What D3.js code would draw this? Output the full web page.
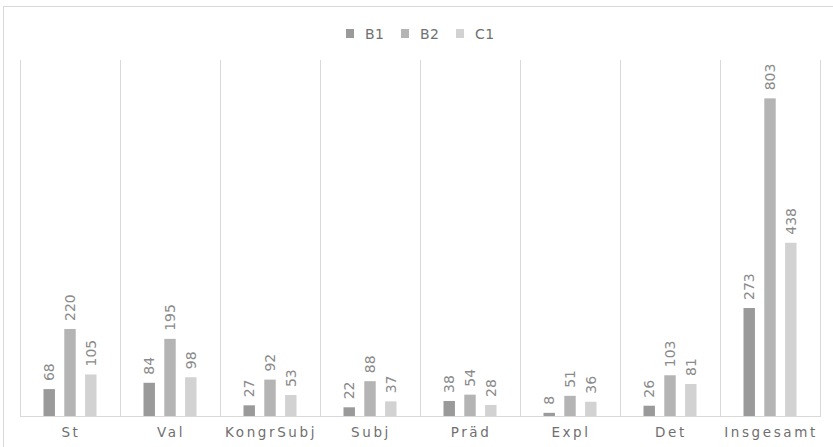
<!DOCTYPE html>
<html>
<head>
<meta charset="utf-8">
<script src="https://cdn.jsdelivr.net/npm/d3@7"></script>
<style>
  body { margin: 0; background: #fff; }
  svg { display: block; }
</style>
</head>
<body>
<div class="chart"></div>
<script>
const categories = ['St', 'Val', 'KongrSubj', 'Subj', 'Präd', 'Expl', 'Det', 'Insgesamt'];
const seriesNames = ['B1', 'B2', 'C1'];
const b1Values = [68, 84, 27, 22, 38, 8, 26, 273];
const b2Values = [220, 195, 92, 88, 54, 51, 103, 803];
const c1Values = [105, 98, 53, 37, 28, 36, 81, 438];

const seriesValues = [b1Values, b2Values, c1Values];
const colors = d3.scaleOrdinal()
  .domain(seriesNames)
  .range(['#9a9a9a', '#b4b4b4', '#d2d2d2']);

const chartWidth = 833;
const chartHeight = 447;

const margin = { left: 20, right: 13, top: 60, bottom: 31 };
const width = chartWidth - margin.left - margin.right;
const height = chartHeight - margin.top - margin.bottom;

const root = d3.select('.chart')
  .append('svg')
  .attr('width', chartWidth)
  .attr('height', chartHeight);

// outer frame (right/bottom edges fall outside the picture)
root.append('rect')
  .attr('x', 3.5)
  .attr('y', 6.5)
  .attr('width', 840)
  .attr('height', 450)
  .attr('fill', 'none')
  .attr('stroke', '#d9d9d9');

const svg = root.append('g')
  .attr('transform', `translate(${margin.left}, ${margin.top})`);

const xScale = d3.scaleBand()
  .domain(categories)
  .range([0, width]);

const inner = d3.scaleBand()
  .domain(seriesNames)
  .range([23.5, 76.5])
  .paddingInner(0.45);

const yScale = d3.scaleLinear()
  .domain([0, 900])
  .range([height, 0]);

// vertical separators between categories
const bounds = categories.map(c => xScale(c)).concat([width]);
svg.append('g')
  .selectAll('line')
  .data(bounds)
  .enter()
  .append('line')
  .attr('x1', d => Math.round(d) + 0.5)
  .attr('x2', d => Math.round(d) + 0.5)
  .attr('y1', 0)
  .attr('y2', height)
  .attr('stroke', '#d9d9d9');

const rows = [];
categories.forEach((c, i) => {
  seriesNames.forEach((s, j) => {
    rows.push({ category: c, series: s, value: seriesValues[j][i] });
  });
});

const bars = svg.append('g');
bars.selectAll('rect')
  .data(rows)
  .enter()
  .append('rect')
  .attr('x', d => xScale(d.category) + inner(d.series))
  .attr('y', d => yScale(d.value))
  .attr('width', inner.bandwidth())
  .attr('height', d => height - yScale(d.value))
  .style('fill', d => colors(d.series));

bars.selectAll('text')
  .data(rows)
  .enter()
  .append('text')
  .attr('transform', d => {
    const cx = xScale(d.category) + inner(d.series) + inner.bandwidth() / 2;
    return `translate(${cx}, ${yScale(d.value) - 8}) rotate(-90)`;
  })
  .attr('dy', '0.36em')
  .attr('text-anchor', 'start')
  .attr('font-family', 'DejaVu Sans, sans-serif')
  .attr('font-size', '14px')
  .style('fill', '#8a8a8a')
  .text(d => d.value);

// baseline
svg.append('line')
  .attr('x1', 0)
  .attr('x2', width + 1)
  .attr('y1', height + 0.5)
  .attr('y2', height + 0.5)
  .attr('stroke', '#d9d9d9');

// category labels
svg.append('g')
  .selectAll('text')
  .data(categories)
  .enter()
  .append('text')
  .attr('x', d => xScale(d) + xScale.bandwidth() / 2 + 1)
  .attr('y', height + 21)
  .attr('text-anchor', 'middle')
  .attr('font-family', 'DejaVu Sans, sans-serif')
  .attr('font-size', '13.5px')
  .attr('letter-spacing', '2.6px')
  .style('fill', '#6f6f6f')
  .text(d => d);

// legend
const legend = root.append('g')
  .attr('transform', 'translate(346, 0)');
const item = legend.selectAll('g')
  .data(seriesNames)
  .enter()
  .append('g')
  .attr('transform', (d, i) => `translate(${i * 55}, 0)`);
item.append('rect')
  .attr('x', 0)
  .attr('y', 29)
  .attr('width', 8)
  .attr('height', 9)
  .style('fill', d => colors(d));
item.append('text')
  .attr('x', 19)
  .attr('y', 38.5)
  .attr('font-family', 'DejaVu Sans, sans-serif')
  .attr('font-size', '14px')
  .attr('letter-spacing', '0.5px')
  .style('fill', '#707070')
  .text(d => d);
</script>
</body>
</html>
